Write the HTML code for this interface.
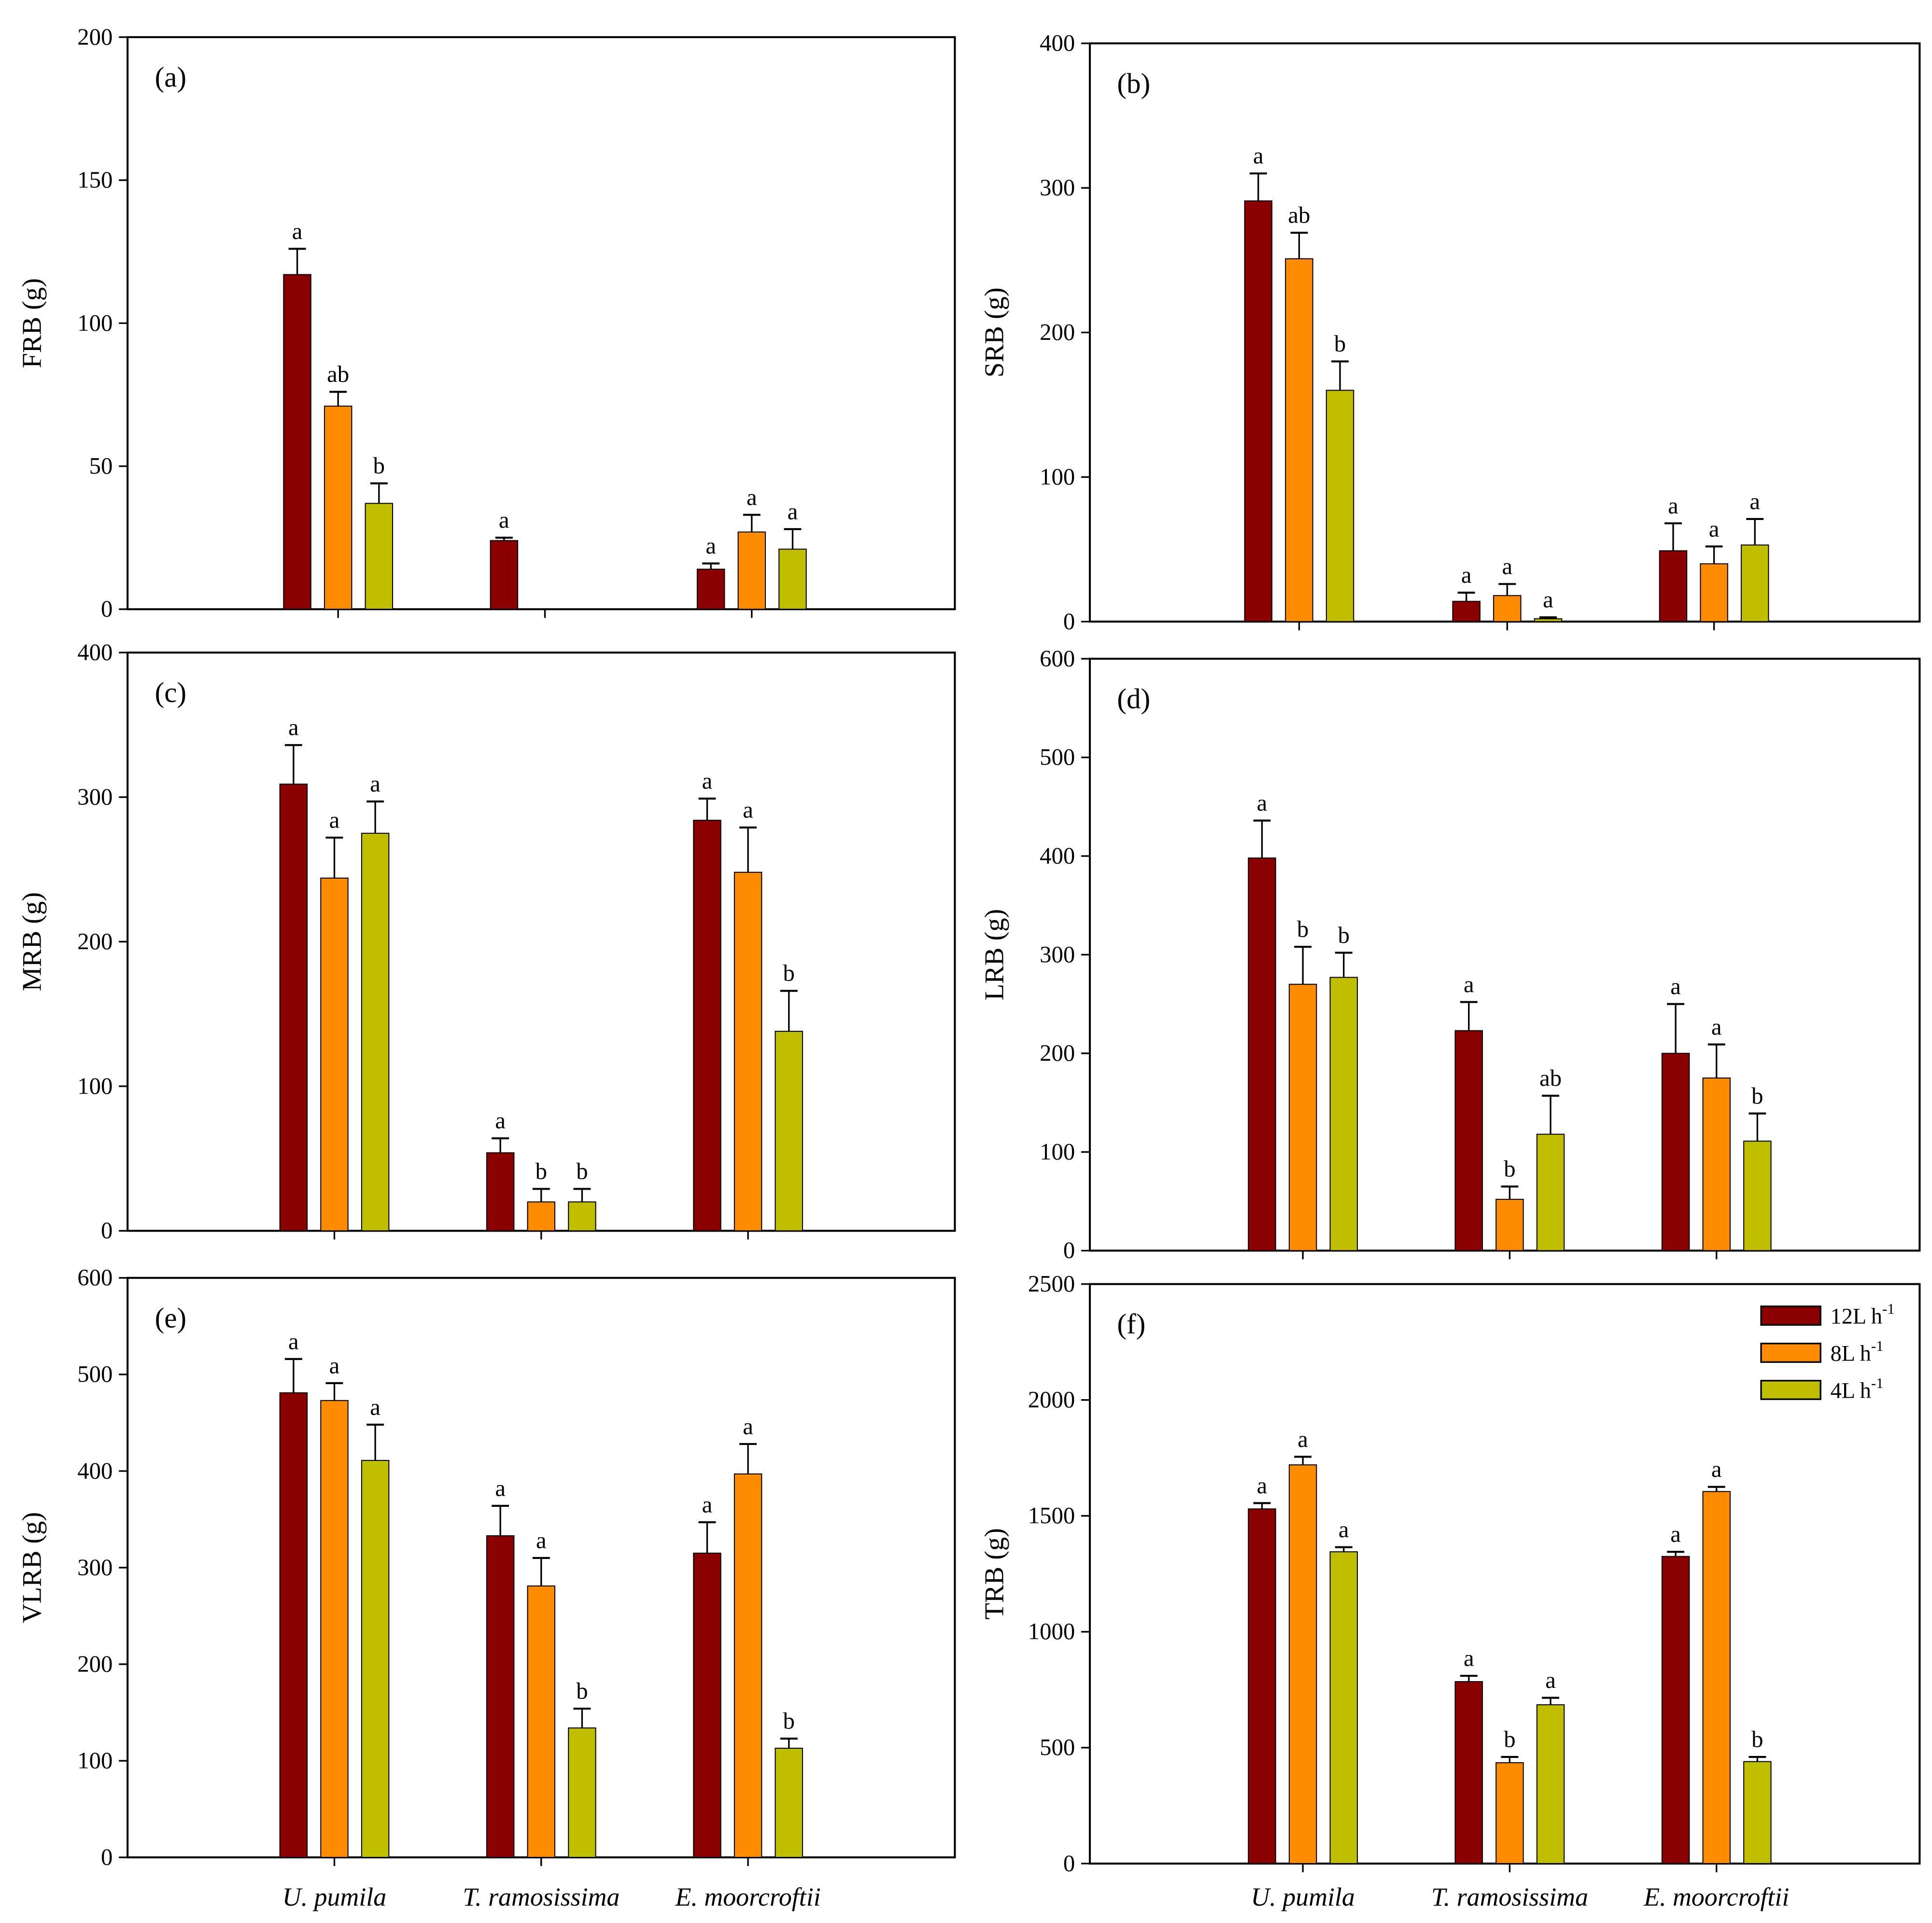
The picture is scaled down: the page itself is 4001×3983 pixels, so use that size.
<!DOCTYPE html>
<html><head><meta charset="utf-8"><style>html,body{margin:0;padding:0;background:#fff}svg{display:block}</style></head>
<body>
<svg id="fig" width="4001" height="3983" viewBox="0 0 1560 1553" preserveAspectRatio="none" xmlns="http://www.w3.org/2000/svg" font-family="'Liberation Serif', serif"></svg>
<script>
const categories = ["U. pumila","T. ramosissima","E. moorcroftii"];
const seriesNames = ["12L h","8L h","4L h"];
const colors = ["#8b0000","#ff8c00","#bfbf00"];
// panel a
const aVals=[[117,71,37],[24,null,null],[14,27,21]];
const aErr=[[126,76,44],[25,null,null],[16,33,28]];
const aLet=[["a","ab","b"],["a","",""],["a","a","a"]];
// panel b
const bVals=[[291,251,160],[14,18,2],[49,40,53]];
const bErr=[[310,269,180],[20,26,3],[68,52,71]];
const bLet=[["a","ab","b"],["a","a","a"],["a","a","a"]];
// panel c
const cVals=[[309,244,275],[54,20,20],[284,248,138]];
const cErr=[[336,272,297],[64,29,29],[299,279,166]];
const cLet=[["a","a","a"],["a","b","b"],["a","a","b"]];
// panel d
const dVals=[[398,270,277],[223,52,118],[200,175,111]];
const dErr=[[436,308,302],[252,65,157],[250,209,139]];
const dLet=[["a","b","b"],["a","b","ab"],["a","a","b"]];
// panel e
const eVals=[[481,473,411],[333,281,134],[315,397,113]];
const eErr=[[516,491,448],[364,310,154],[347,428,123]];
const eLet=[["a","a","a"],["a","a","b"],["a","a","b"]];
// panel f
const fVals=[[1530,1720,1345],[785,435,685],[1325,1605,440]];
const fErr=[[1555,1755,1365],[810,460,715],[1345,1625,460]];
const fLet=[["a","a","a"],["a","b","a"],["a","a","b"]];
const yTicksA=[0,50,100,150,200];
const yTicks400=[0,100,200,300,400];
const yTicks600=[0,100,200,300,400,500,600];
const yTicksF=[0,500,1000,1500,2000,2500];

const panels=[
 {id:"a",title:"FRB (g)",L:103,R:771,T:30,B:492,ticks:yTicksA,v:aVals,e:aErr,l:aLet,g:[273,440,607]},
 {id:"b",title:"SRB (g)",L:880,R:1550,T:35,B:502,ticks:yTicks400,v:bVals,e:bErr,l:bLet,g:[1049,1217,1384]},
 {id:"c",title:"MRB (g)",L:103,R:771,T:527,B:994,ticks:yTicks400,v:cVals,e:cErr,l:cLet,g:[270,437,604]},
 {id:"d",title:"LRB (g)",L:880,R:1550,T:532,B:1010,ticks:yTicks600,v:dVals,e:dErr,l:dLet,g:[1052,1219,1386]},
 {id:"e",title:"VLRB (g)",L:103,R:771,T:1032,B:1500,ticks:yTicks600,v:eVals,e:eErr,l:eLet,g:[270,437,604]},
 {id:"f",title:"TRB (g)",L:880,R:1550,T:1037,B:1505,ticks:yTicksF,v:fVals,e:fErr,l:fLet,g:[1052,1219,1386]}
];
const NS="http://www.w3.org/2000/svg";
const svg=document.getElementById("fig");
function mk(tag,attrs,parent,text){const el=document.createElementNS(NS,tag);for(const k in attrs)el.setAttribute(k,attrs[k]);if(text!==undefined)el.textContent=text;(parent||svg).appendChild(el);return el;}
panels.forEach(p=>{
  const g=mk("g",{});
  
  
  const max=p.ticks[p.ticks.length-1];
  const y=v=>p.B-(v/max)*(p.B-p.T);
  const frame=mk("rect",{x:p.L,y:p.T,width:p.R-p.L,height:p.B-p.T,fill:"none",stroke:"#000","stroke-width":1.6},g);
  
  
  p.ticks.forEach(t=>{
    mk("line",{x1:p.L-7,x2:p.L,y1:y(t),y2:y(t),stroke:"#000","stroke-width":1.3},g);
    const tl=mk("text",{x:p.L-12,y:y(t)+6,"text-anchor":"end","font-size":19},g,String(t));
    
    
  });
  const cx=p.L-70, cy=(p.T+p.B)/2;
  const yt=mk("text",{x:cx,y:cy,"text-anchor":"middle","font-size":22,transform:`rotate(-90 ${cx} ${cy})`},g,p.title);
  
  
  const pl=mk("text",{x:p.L+22,y:p.T+40,"font-size":23},g,"("+p.id+")");
  
  
  p.g.forEach((gx,ci)=>{
    mk("line",{x1:gx,x2:gx,y1:p.B,y2:p.B+7,stroke:"#000","stroke-width":1.3},g);
    [-33,0,33].forEach((off,si)=>{
      const v=p.v[ci][si]; if(v===null) return;
      const bx=gx+off;
      const r=mk("rect",{x:bx-11,y:y(v),width:22,height:p.B-y(v),fill:colors[si],stroke:"#000","stroke-width":0.8},g);
      
      
      const ev=p.e[ci][si];
      mk("line",{x1:bx,x2:bx,y1:y(v),y2:y(ev),stroke:"#000","stroke-width":1.3},g);
      mk("line",{x1:bx-7,x2:bx+7,y1:y(ev),y2:y(ev),stroke:"#000","stroke-width":1.6},g);
      const lt=p.l[ci][si];
      if(lt){const t=mk("text",{x:bx,y:y(ev)-8,"text-anchor":"middle","font-size":19},g,lt);
        
        }
    });
    if(p.id==="e"||p.id==="f"){
      const xl=mk("text",{x:gx,y:1539,"text-anchor":"middle","font-size":21,"font-style":"italic"},g,categories[ci]);
      
      
    }
  });
});
// legend
const lg=mk("g",{});


[1055,1085,1115].forEach((yy,i)=>{
  const r=mk("rect",{x:1422,y:yy,width:48,height:15,fill:colors[i],stroke:"#000","stroke-width":1.3},lg);
  
  
  const t=mk("text",{x:1478,y:yy+14,"font-size":18},lg,seriesNames[i]);
  
  
  mk("tspan",{dy:-8,"font-size":12},t,"-1");
});
</script>
</body></html>
